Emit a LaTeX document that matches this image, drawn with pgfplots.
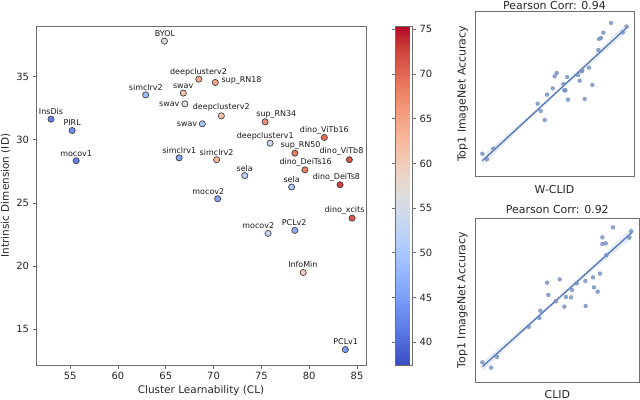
\documentclass[border=0pt]{standalone}
\usepackage{pgfplots}
\pgfplotsset{compat=1.18}
\usepackage{fontspec}
\setmainfont{DejaVu Sans}

\definecolor{sbblue}{RGB}{76,114,176}
\definecolor{frame}{RGB}{110,110,110}

\pgfplotsset{
  colormap={coolwarm}{
    rgb255=(59,76,192) rgb255=(77,104,215) rgb255=(98,130,234) rgb255=(119,154,247)
    rgb255=(141,176,254) rgb255=(163,194,255) rgb255=(184,208,249) rgb255=(204,217,238)
    rgb255=(221,221,221) rgb255=(236,211,197) rgb255=(245,196,172) rgb255=(247,177,148)
    rgb255=(244,154,123) rgb255=(236,127,99) rgb255=(222,96,77) rgb255=(203,62,56)
    rgb255=(180,4,38)
  },
  mystyle/.style={
    scale only axis,
    axis line style={frame, line width=0.9bp},
    tick align=outside, tick pos=left,
    major tick length=3.5bp,
    every tick/.style={frame, line width=0.8bp},
    tick label style={font=\fontsize{10}{12}\selectfont, text=black!85},
    label style={font=\fontsize{10.5}{12}\selectfont, text=black!85},
    /pgf/number format/assume math mode=true,
  },
  small/.style={
    mystyle,
    xtick=\empty, ytick=\empty,
    every axis title shift=0pt,
    label style={font=\fontsize{11}{13}\selectfont, text=black!85},
    title style={font=\fontsize{11}{13}\selectfont, text=black!85, anchor=center},
  },
  dots/.style={only marks, mark=*, mark size=2bp,
    mark options={draw=sbblue!80!white, fill=sbblue!80!white, line width=0.3bp, opacity=0.8}},
}

\begin{document}
\begin{tikzpicture}
\path[use as bounding box] (0,0) rectangle (640bp,400bp);

% main scatter
\begin{axis}[
  mystyle,
  at={(36bp,35bp)}, anchor=south west,
  width=330bp, height=339bp,
  xmin=51.43, xmax=85.94, ymin=12.18, ymax=39.0,
  xtick={55,60,...,85}, ytick={15,20,...,35},
  xlabel={Cluster Learnability (CL)},
  ylabel={Intrinsic Dimension (ID)},
  xlabel style={at={(axis description cs:0.5,-0.076)}, anchor=center},
  ylabel style={at={(axis description cs:-0.092,0.5)}, anchor=center},
  colormap name=coolwarm,
  point meta min=37.46, point meta max=75.37,
  colorbar,
  colorbar style={
    at={(parent axis.north east)}, anchor=north west, xshift=20.7bp,
    scale only axis, width=17.3bp, height=339bp,
    ytick={40,45,...,75}, yticklabel pos=right,
    tick align=outside,
    major tick length=3.5bp,
    axis line style={frame, line width=0.9bp},
    every tick/.style={frame, line width=0.8bp},
    tick label style={font=\fontsize{10}{12}\selectfont, text=black!85},
    /pgf/number format/assume math mode=true,
  },
]
\addplot[scatter, only marks, mark=*, mark size=3.1bp, line width=0.7bp,
  scatter src=explicit,
  scatter/use mapped color={draw=black!75, fill=mapped color}]
  table[meta=c] {
x      y      c
64.86  37.80  56.5
68.46  34.80  64.0
70.18  34.53  64.5
62.90  33.55  48.5
66.83  33.69  61.0
67.00  32.84  56.0
70.81  31.89  61.5
68.82  31.26  49.5
53.00  31.63  42.0
55.21  30.73  43.5
55.63  28.34  42.5
66.40  28.57  46.0
70.32  28.42  63.0
70.43  25.33  46.0
75.39  31.42  67.0
81.58  30.18  69.5
75.91  29.73  54.0
78.50  28.94  68.5
84.20  28.42  71.5
73.26  27.17  52.0
79.55  27.62  68.0
78.16  26.26  50.0
83.23  26.44  72.5
84.49  23.80  71.0
75.70  22.59  53.0
78.50  22.83  47.0
79.38  19.50  60.0
83.78  13.40  45.0
};
\begin{scope}[every node/.style={font=\fontsize{8}{9}\selectfont, text=black!90, inner sep=0pt}]
\node at (axis cs:64.92,38.43) {BYOL};
\node at (axis cs:68.43,35.37) {deepclusterv2};
\node at (axis cs:72.92,34.68) {sup\_RN18};
\node at (axis cs:62.92,34.16) {simclrv2};
\node at (axis cs:66.82,34.26) {swav};
\node at (axis cs:65.37,32.84) {swav};
\node at (axis cs:70.81,32.55) {deepclusterv2};
\node at (axis cs:67.22,31.26) {swav};
\node at (axis cs:53.00,32.23) {InsDis};
\node at (axis cs:55.21,31.36) {PIRL};
\node at (axis cs:55.63,28.94) {mocov1};
\node at (axis cs:66.42,29.15) {simclrv1};
\node at (axis cs:70.32,29.02) {simclrv2};
\node at (axis cs:69.45,25.91) {mocov2};
\node at (axis cs:76.56,32.03) {sup\_RN34};
\node at (axis cs:81.58,30.73) {dino\_ViTb16};
\node at (axis cs:75.41,30.31) {deepclusterv1};
\node at (axis cs:79.10,29.55) {sup\_RN50};
\node at (axis cs:83.38,29.05) {dino\_ViTb8};
\node at (axis cs:73.26,27.76) {sela};
\node at (axis cs:79.63,28.20) {dino\_DeiTs16};
\node at (axis cs:78.16,26.83) {sela};
\node at (axis cs:82.84,27.05) {dino\_DeiTs8};
\node at (axis cs:83.70,24.41) {dino\_xcits};
\node at (axis cs:74.67,23.20) {mocov2};
\node at (axis cs:78.43,23.41) {PCLv2};
\node at (axis cs:79.34,20.11) {InfoMin};
\node at (axis cs:83.82,14.00) {PCLv1};
\end{scope}
\end{axis}

% top right: W-CLID
\begin{axis}[
  small,
  at={(475bp,223.3bp)}, anchor=south west,
  width=159bp, height=165.7bp,
  xmin=105, xmax=582, ymin=-530, ymax=-33,
  title={Pearson Corr: 0.94},
  title style={at={(axis description cs:0.5,1.036)}},
  xlabel={W-CLID}, ylabel={Top1 ImageNet Accuracy},
  xlabel style={at={(axis description cs:0.5,-0.080)}, anchor=center},
  ylabel style={at={(axis description cs:-0.077,0.5)}, anchor=center},
]
\addplot[draw=none, fill=sbblue, fill opacity=0.15] coordinates {
  (127,-468) (235,-374.5) (343,-278) (452,-174.5) (560,-69)
  (560,-97) (452,-190.5) (343,-288) (235,-390.5) (127,-496)} -- cycle;
\addplot[sbblue, line width=1.2bp] coordinates {(127,-482) (560,-83)};
\addplot[dots] coordinates {
  (127,-461) (141,-478) (160,-446) (293,-311) (302,-333) (314,-360) (321,-284)
  (338,-265) (344,-229) (350,-219) (370,-252) (373,-271) (376,-271) (381,-231)
  (384,-299) (414,-225) (419,-242) (424,-214) (427,-212) (434,-297) (447,-203)
  (457,-255) (475,-150) (477,-117) (483,-114) (490,-98) (513,-69) (548,-97) (560,-80)};
\end{axis}

% bottom right: CLID
\begin{axis}[
  small,
  at={(475.7bp,17.7bp)}, anchor=south west,
  width=163.3bp, height=164.3bp,
  xmin=107, xmax=597, ymin=-577, ymax=-84,
  title={Pearson Corr: 0.92},
  title style={at={(axis description cs:0.5,1.049)}},
  xlabel={CLID}, ylabel={Top1 ImageNet Accuracy},
  xlabel style={at={(axis description cs:0.5,-0.072)}, anchor=center},
  ylabel style={at={(axis description cs:-0.081,0.5)}, anchor=center},
]
\addplot[draw=none, fill=sbblue, fill opacity=0.15] coordinates {
  (127,-516) (239,-421.5) (351,-324) (463,-220.5) (575,-112)
  (575,-144) (463,-236.5) (351,-334) (239,-437.5) (127,-544)} -- cycle;
\addplot[sbblue, line width=1.2bp] coordinates {(127,-530) (575,-128)};
\addplot[dots] coordinates {
  (127,-517) (153,-533) (171,-501) (266,-411) (298,-384) (301,-362) (321,-278)
  (325,-315) (347,-334) (359,-268) (373,-350) (378,-321) (393,-322) (396,-300)
  (410,-280) (436,-273) (437,-348) (459,-262) (462,-292) (473,-305) (480,-251)
  (487,-142) (487,-162) (497,-160) (499,-196) (519,-112) (568,-143) (574,-124)};
\end{axis}
\end{tikzpicture}
\end{document}
